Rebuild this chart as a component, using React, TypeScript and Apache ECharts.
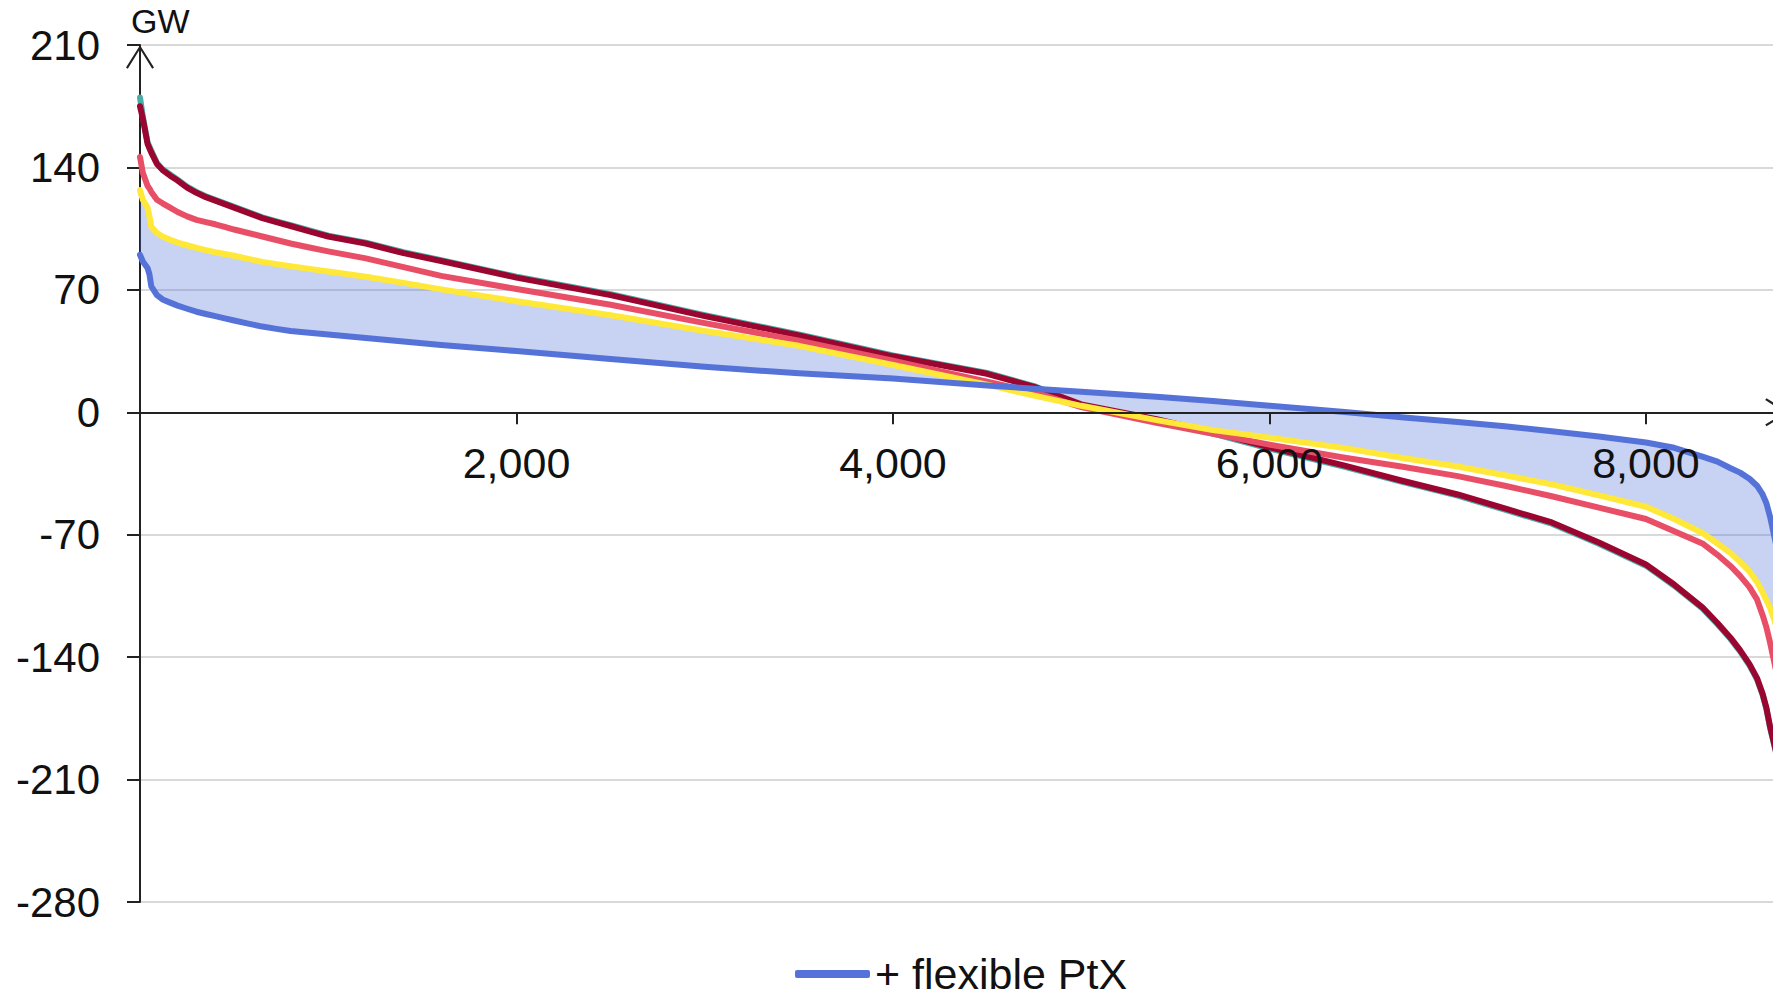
import React, { useEffect, useRef } from 'react';
import * as echarts from 'echarts';

// Hours of the year (sorted duration curve)
const hours = [0, 15, 40, 50, 60, 90, 120, 160, 200, 250, 300, 350, 400, 450, 500, 575, 650, 725, 800, 900, 1000, 1200, 1400, 1600, 2000, 2500, 3000, 3500, 4000, 4500, 4750, 5000, 5400, 5700, 6000, 6400, 6700, 7000, 7250, 7500, 7750, 8000, 8150, 8300, 8380, 8450, 8500, 8550, 8590, 8620, 8640, 8660, 8680, 8700, 8760];

// Residual load duration curves (GW)
const tealLine = [180, 169, 154.5, 152, 149.5, 142.5, 139, 136, 133, 129, 126, 123.5, 121.5, 119.5, 117.5, 114.5, 111.5, 109.2, 107, 104, 101, 97, 91.5, 87, 77.5, 67.5, 55.5, 44.5, 32.5, 22.5, 15, 4, -4.7, -12.2, -20.7, -31.2, -39.7, -47.7, -55.7, -63.7, -75.2, -87.7, -99.2, -112.2, -121.2, -129.7, -136.7, -144.7, -152.7, -161.7, -169.7, -180.7, -189.7, -198.7, -218.7];
const darkRedLine = [175, 168, 153.5, 151, 148.5, 142, 138.5, 135.3, 132.5, 128.5, 125.5, 123, 121, 119, 117, 114, 111, 108.7, 106.5, 103.5, 100.5, 96.5, 91, 86.5, 77, 67, 55, 44, 32, 22, 14.5, 4.5, -4, -11.5, -20, -30.5, -39, -47, -55, -63, -74.5, -87, -98.5, -111.5, -120.5, -129, -136, -144, -152, -161, -169, -180, -189, -198, -218];
const redLine = [146, 137, 129.5, 128, 126, 121.5, 119.5, 117, 114.5, 112, 110, 108.7, 107.5, 106, 104.5, 102.5, 100.5, 98.5, 96.5, 94.2, 92, 88, 83, 78, 70.5, 61.5, 51, 41, 29.5, 17.5, 11.5, 3, -6, -12.3, -18.5, -26, -31, -36.5, -42, -48, -54.5, -61, -68, -75, -81.5, -88, -93.5, -100, -107, -116, -123, -132, -142, -152, -180];
const yellowLine = [127, 121.5, 117, 112, 106, 102.5, 100.5, 98.7, 97, 95.5, 94, 92.7, 91.5, 90.5, 89.5, 87.7, 86, 84.7, 83.5, 82, 80.5, 77.5, 74, 70.3, 63.5, 55.5, 46.5, 38, 27, 15.8, 9.5, 3.7, -4.5, -10.2, -14.5, -20.5, -26, -31, -36, -41.2, -47.5, -54, -61, -69, -75, -80.5, -85.5, -91, -97, -103, -107.5, -112, -118, -125, -150];
const blueLine = [90, 86.2, 82.5, 79, 72, 67, 64.5, 62.7, 61, 59.2, 57.5, 56.2, 55, 53.7, 52.5, 50.7, 49, 47.7, 46.5, 45.5, 44.5, 42.5, 40.5, 38.5, 35, 30.5, 26, 22.3, 19.3, 15.3, 13.5, 11.8, 8.9, 6.4, 3.8, 0.2, -2.8, -5.5, -8, -10.8, -13.8, -17.3, -20.3, -25.3, -28.2, -32, -34.5, -38, -42, -47, -52, -60, -70, -80, -110];

const seriesNames = ['Scenario A', 'Scenario B', 'Scenario C', 'Scenario D', '+ flexible PtX'];
const legendNames = ['+ flexible PtX'];

const yMin = -280;
const yMax = 210;
const yStep = 70;
const xMin = 0;
const xMax = 8760;
const xStep = 2000;

const FONT = '"Liberation Sans", Arial, Helvetica, sans-serif';
const CHEVRON = 'path://M0 22.3 L14 0 L28 22.3 L26.2 23.6 L14 3.8 L1.8 23.6 Z';

const GRID_TOP = 45;
const GRID_BOTTOM = 93;
const CHART_H = 995;

const pairs = (vals: number[]) => hours.map((h, i) => [h, vals[i]]);

export default function App() {
  const ref = useRef<HTMLDivElement>(null);

  useEffect(() => {
    if (!ref.current) return;
    const chart = echarts.init(ref.current, null, { renderer: 'svg' });

    const gridH = CHART_H - GRID_TOP - GRID_BOTTOM;
    // move the x axis (line, ticks and labels) up to the zero line
    const xOffset = -gridH * (0 - yMin) / (yMax - yMin);

    const lineSeries = (name: string, color: string, vals: number[], z: number) => ({
      name,
      type: 'line',
      data: pairs(vals),
      showSymbol: false,
      symbol: 'none',
      color,
      z,
      lineStyle: { color, width: 6, cap: 'round', join: 'round' },
      emphasis: { disabled: true },
    });

    const option: any = {
      animation: false,
      backgroundColor: '#ffffff',
      textStyle: { fontFamily: FONT },
      grid: { left: 140, right: 11, top: GRID_TOP, bottom: GRID_BOTTOM, containLabel: false },
      legend: {
        data: legendNames,
        left: 795,
        top: 952,
        padding: 0,
        icon: 'roundRect',
        itemWidth: 75,
        itemHeight: 8,
        textStyle: { fontSize: 43, lineHeight: 44, color: '#111111', fontFamily: FONT },
      },
      xAxis: {
        type: 'value',
        min: xMin,
        max: xMax,
        interval: xStep,
        offset: xOffset,
        z: 20,
        axisLine: {
          show: true,
          onZero: false,
          lineStyle: { color: '#222222', width: 2 },
          symbol: ['none', CHEVRON],
          symbolSize: [28, 24],
          symbolOffset: [0, -12],
        },
        axisTick: { show: true, length: 12, lineStyle: { color: '#222222', width: 2 } },
        axisLabel: {
          fontSize: 43,
          color: '#111111',
          fontFamily: FONT,
          margin: 29,
          showMinLabel: false,
          showMaxLabel: false,
          formatter: (v: number) => v.toLocaleString('en-US'),
        },
        splitLine: { show: false },
      },
      yAxis: {
        type: 'value',
        min: yMin,
        max: yMax,
        interval: yStep,
        z: 0,
        axisLine: {
          show: true,
          onZero: false,
          lineStyle: { color: '#222222', width: 2 },
          symbol: ['none', CHEVRON],
          symbolSize: [28, 24],
          symbolOffset: [0, -12],
        },
        axisTick: { show: true, length: 13, lineStyle: { color: '#222222', width: 2 } },
        axisLabel: { fontSize: 42, color: '#111111', fontFamily: FONT, margin: 40 },
        splitLine: { show: true, lineStyle: { color: '#d9d9d9', width: 2 } },
      },
      graphic: [
        {
          type: 'text',
          left: 131,
          top: 4,
          style: { text: 'GW', fontSize: 34, fill: '#111111', fontFamily: FONT },
        },
      ],
      series: [
        {
          name: 'band',
          type: 'custom',
          silent: true,
          z: 1,
          data: [[0, 0]],
          renderItem: (_params: any, api: any) => {
            const pts: number[][] = [];
            for (let i = 0; i < hours.length; i++) pts.push(api.coord([hours[i], blueLine[i]]));
            for (let i = hours.length - 1; i >= 0; i--) pts.push(api.coord([hours[i], yellowLine[i]]));
            return { type: 'polygon', shape: { points: pts }, style: { fill: 'rgba(85,114,216,0.32)' } };
          },
        },
        lineSeries(seriesNames[0], '#47ada6', tealLine, 2),
        lineSeries(seriesNames[1], '#9b0631', darkRedLine, 3),
        lineSeries(seriesNames[2], '#e84f66', redLine, 4),
        lineSeries(seriesNames[3], '#ffe838', yellowLine, 5),
        lineSeries(seriesNames[4], '#5572d8', blueLine, 6),
      ],
    };

    chart.setOption(option);
    return () => chart.dispose();
  }, []);

  return (
    <div
      style={{
        position: 'fixed',
        left: 0,
        top: 0,
        width: 1773,
        height: 995,
        overflow: 'hidden',
        background: '#ffffff',
      }}
    >
      <div ref={ref} style={{ width: 1800, height: CHART_H }} />
    </div>
  );
}
